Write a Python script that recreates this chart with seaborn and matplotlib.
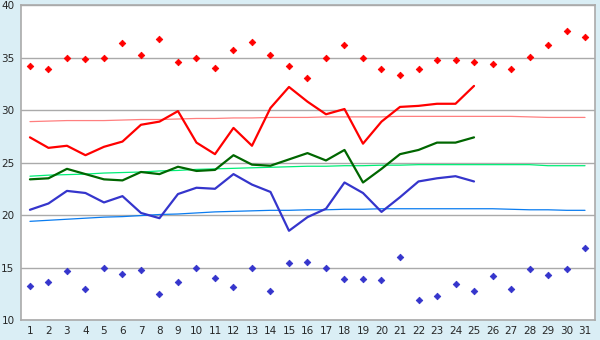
import numpy as np
import matplotlib
matplotlib.use("Agg")
import matplotlib.pyplot as plt
import seaborn as sns

days = list(range(1, 32))

# observed daily values (first 25 days)
t_max = [27.4, 26.4, 26.6, 25.7, 26.5, 27.0, 28.6, 28.9, 29.9, 26.9,
         25.8, 28.3, 26.6, 30.2, 32.2, 30.8, 29.6, 30.1, 26.8, 28.9,
         30.3, 30.4, 30.6, 30.6, 32.3]
t_mean = [23.4, 23.5, 24.4, 23.9, 23.4, 23.3, 24.1, 23.9, 24.6, 24.2,
          24.3, 25.7, 24.8, 24.7, 25.3, 25.9, 25.2, 26.2, 23.1, 24.4,
          25.8, 26.2, 26.9, 26.9, 27.4]
t_min = [20.5, 21.1, 22.3, 22.1, 21.2, 21.8, 20.2, 19.7, 22.0, 22.6,
         22.5, 23.9, 22.9, 22.2, 18.5, 19.8, 20.6, 23.1, 22.1, 20.3,
         21.7, 23.2, 23.5, 23.7, 23.2]

# normals
norm_max = [28.9, 28.95, 29.0, 29.0, 29.0, 29.05, 29.1, 29.1, 29.15, 29.2,
            29.2, 29.25, 29.25, 29.3, 29.3, 29.3, 29.35, 29.35, 29.35, 29.35,
            29.4, 29.4, 29.4, 29.4, 29.4, 29.4, 29.4, 29.35, 29.3, 29.3, 29.3]
norm_mean = [23.7, 23.8, 23.85, 23.9, 24.0, 24.05, 24.1, 24.2, 24.25, 24.35,
             24.4, 24.45, 24.5, 24.55, 24.6, 24.65, 24.65, 24.7, 24.7, 24.75,
             24.75, 24.8, 24.8, 24.8, 24.8, 24.8, 24.8, 24.8, 24.7, 24.7, 24.7]
norm_min = [19.4, 19.5, 19.6, 19.7, 19.8, 19.85, 19.95, 20.05, 20.1, 20.2,
            20.3, 20.35, 20.4, 20.45, 20.45, 20.5, 20.5, 20.55, 20.55, 20.6,
            20.6, 20.6, 20.6, 20.6, 20.6, 20.6, 20.55, 20.5, 20.5, 20.45, 20.45]

# records
rec_max = [34.2, 33.9, 35.0, 34.9, 35.0, 36.4, 35.2, 36.8, 34.6, 35.0,
           34.0, 35.7, 36.5, 35.2, 34.2, 33.1, 35.0, 36.2, 35.0, 33.9,
           33.3, 33.9, 34.8, 34.8, 34.6, 34.35, 33.9, 35.1, 36.2, 37.5, 37.0]
rec_min = [13.2, 13.6, 14.7, 13.0, 15.0, 14.4, 14.8, 12.5, 13.6, 15.0,
           14.0, 13.1, 15.0, 12.8, 15.4, 15.5, 15.0, 13.9, 13.9, 13.8,
           16.0, 11.9, 12.3, 13.4, 12.8, 14.2, 13.0, 14.9, 14.3, 14.9, 16.9]

sns.set_style("white")
plt.rcParams['font.family'] = ['DejaVu Sans']

bg = "#daeef5"
fig = plt.figure(figsize=(6, 3.4), dpi=100, facecolor=bg)
ax = fig.add_axes([0.0345, 0.0588, 0.9575, 0.9262])
ax.set_facecolor("white")

obs = days[:25]
sns.lineplot(x=days, y=norm_max, color="#ff7f7f", lw=0.9, ax=ax)
sns.lineplot(x=days, y=norm_mean, color="#00ee77", lw=0.9, ax=ax)
sns.lineplot(x=days, y=norm_min, color="#0a7cf0", lw=0.9, ax=ax)
sns.lineplot(x=obs, y=t_max, color="#ff0000", lw=1.6, ax=ax)
sns.lineplot(x=obs, y=t_mean, color="#006600", lw=1.6, ax=ax)
sns.lineplot(x=obs, y=t_min, color="#3535cc", lw=1.6, ax=ax)
sns.scatterplot(x=days, y=rec_max, color="#ff0000", marker="D", s=11,
                linewidth=0.6, edgecolor="#ff0000", ax=ax)
sns.scatterplot(x=days, y=rec_min, color="#3535cc", marker="D", s=11,
                linewidth=0.6, edgecolor="#3535cc", ax=ax)

ax.set_xlim(0.5, 31.55)
ax.set_ylim(10, 40)
ax.set_xticks(days)
ax.set_yticks([10, 15, 20, 25, 30, 35, 40])
ax.yaxis.grid(True, color="#aaaaaa", lw=1)
ax.set_axisbelow(True)
for s in ax.spines.values():
    s.set_color("#aaaaaa")
    s.set_linewidth(1.2)
ax.tick_params(axis="both", direction="out", length=3, width=1,
               color="#555555", labelsize=7.5, pad=1.5)
ax.set_xlabel("")
ax.set_ylabel("")

fig.savefig("out.png", dpi=100, facecolor=bg)
